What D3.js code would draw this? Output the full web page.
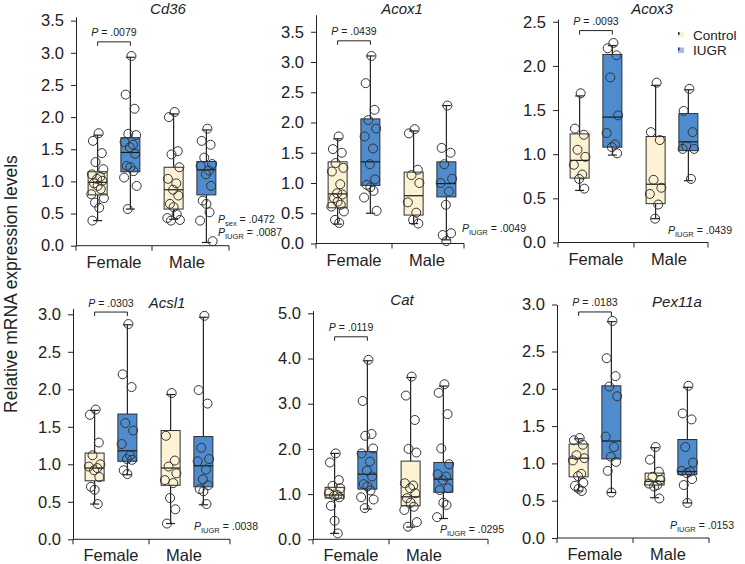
<!DOCTYPE html>
<html>
<head>
<meta charset="utf-8">
<script src="https://cdn.jsdelivr.net/npm/d3@7"></script>
<style>
  body { margin: 0; background: #fff; }
  svg { display: block; font-family: Arial, "Liberation Sans", sans-serif; }
</style>
</head>
<body>
<div id="chart"></div>
<script>
// ---- data ----
const sexes = ["Female", "Male"];
const treatments = ["Control", "IUGR"];
const genes = ["Cd36", "Acox1", "Acox3", "Acsl1", "Cat", "Pex11a"];

// group order in every array: Female-Control, Female-IUGR, Male-Control, Male-IUGR
const cd36Points = [
  [1.75, 1.63, 1.44, 1.30, 1.19, 1.11, 1.07, 1.04, 1.01, 0.97, 0.93, 0.88, 0.80, 0.74, 0.67, 0.59, 0.39],
  [2.95, 2.35, 2.13, 1.74, 1.72, 1.61, 1.57, 1.53, 1.43, 1.24, 1.22, 1.16, 1.06, 0.93, 0.57],
  [2.08, 2.00, 1.47, 1.42, 1.22, 1.04, 0.97, 0.87, 0.78, 0.65, 0.60, 0.49, 0.43, 0.40, 0.39],
  [1.82, 1.63, 1.57, 1.37, 1.27, 1.24, 1.17, 1.11, 0.93, 0.70, 0.65, 0.52, 0.39, 0.07]
];
// [min, q1, median, q3, max]
const cd36Box = [[0.39, 0.79, 0.985, 1.15, 1.72], [0.57, 1.15, 1.45, 1.68, 2.93], [0.41, 0.57, 0.87, 1.22, 2.05], [0.05, 0.79, 1.18, 1.31, 1.80]];

const acox1Points = [
  [1.77, 1.56, 1.50, 1.33, 1.25, 1.19, 0.98, 0.83, 0.81, 0.75, 0.69, 0.64, 0.61, 0.53, 0.39, 0.34],
  [3.10, 2.65, 2.21, 2.04, 1.90, 1.77, 1.57, 1.31, 1.06, 0.97, 0.93, 0.87, 0.76, 0.54],
  [1.89, 1.82, 1.22, 1.13, 1.00, 0.68, 0.51, 0.39, 0.33],
  [2.28, 1.58, 1.50, 1.31, 1.07, 1.00, 0.86, 0.64, 0.17, 0.14, 0.04]
];
const acox1Box = [[0.32, 0.59, 0.82, 1.35, 1.73], [0.50, 0.96, 1.35, 2.06, 3.10], [0.33, 0.47, 0.79, 1.18, 1.86], [0.06, 0.77, 0.99, 1.35, 2.28]];

const acox3Points = [
  [1.69, 1.29, 1.22, 1.05, 0.97, 0.88, 0.77, 0.72, 0.61],
  [2.26, 2.20, 2.12, 1.87, 1.44, 1.24, 1.11, 1.08, 1.01],
  [1.81, 1.25, 1.16, 0.71, 0.62, 0.55, 0.43, 0.27],
  [1.74, 1.49, 1.25, 1.09, 1.06, 1.06, 0.72]
];
const acox3Box = [[0.59, 0.73, 0.93, 1.23, 1.66], [0.99, 1.08, 1.42, 2.13, 2.23], [0.27, 0.44, 0.66, 1.20, 1.78], [0.70, 1.04, 1.14, 1.46, 1.73]];

const acsl1Points = [
  [1.73, 1.66, 1.29, 1.12, 1.00, 0.97, 0.95, 0.92, 0.83, 0.70, 0.66, 0.47],
  [2.87, 2.20, 2.03, 1.55, 1.45, 1.27, 1.12, 1.07, 1.06, 0.92, 0.87],
  [1.95, 1.38, 1.05, 0.97, 0.88, 0.79, 0.75, 0.55, 0.40, 0.21],
  [2.98, 1.99, 1.81, 1.22, 1.07, 1.04, 0.93, 0.80, 0.72, 0.67, 0.64, 0.47]
];
const acsl1Box = [[0.47, 0.78, 0.95, 1.15, 1.72], [0.86, 1.04, 1.18, 1.67, 2.86], [0.21, 0.72, 0.95, 1.45, 1.93], [0.46, 0.70, 0.98, 1.37, 2.96]];

const catPoints = [
  [1.90, 1.70, 1.31, 1.18, 1.13, 1.02, 0.98, 0.96, 0.93, 0.74, 0.41, 0.13],
  [3.97, 3.06, 2.33, 2.29, 2.01, 1.90, 1.72, 1.52, 1.39, 1.22, 1.17, 1.08, 0.93, 0.88, 0.69],
  [3.60, 3.18, 2.64, 2.00, 1.92, 1.24, 1.19, 1.13, 1.02, 0.91, 0.81, 0.72, 0.65, 0.38, 0.28],
  [3.43, 3.24, 2.77, 2.01, 1.66, 1.44, 1.39, 1.31, 1.13, 1.09, 0.81, 0.76, 0.49]
];
const catBox = [[0.13, 0.91, 0.98, 1.15, 1.90], [0.67, 1.11, 1.44, 1.94, 3.95], [0.27, 0.74, 0.94, 1.73, 3.58], [0.46, 1.04, 1.33, 1.70, 3.39]];

const pex11aPoints = [
  [1.34, 1.31, 1.25, 1.11, 1.07, 1.04, 0.86, 0.83, 0.74, 0.70, 0.66, 0.63],
  [2.91, 2.41, 2.17, 2.03, 1.90, 1.36, 1.22, 1.09, 1.02, 0.90, 0.61],
  [1.22, 1.05, 0.89, 0.82, 0.78, 0.73, 0.71, 0.69, 0.53],
  [2.04, 1.67, 1.59, 1.22, 1.01, 0.90, 0.89, 0.87, 0.79, 0.71, 0.47]
];
const pex11aBox = [[0.63, 0.82, 1.07, 1.26, 1.33], [0.61, 1.06, 1.30, 2.04, 2.90], [0.54, 0.71, 0.76, 0.87, 1.21], [0.47, 0.85, 0.89, 1.32, 2.02]];

// female control vs IUGR p-values, and the overall model p-values
const femalePValues = [".0079", ".0439", ".0093", ".0303", ".0119", ".0183"];
const modelPValues = [
  [["sex", ".0472"], ["IUGR", ".0087"]],
  [["IUGR", ".0049"]],
  [["IUGR", ".0439"]],
  [["IUGR", ".0038"]],
  [["IUGR", ".0295"]],
  [["IUGR", ".0153"]]
];
const yTickMax = [3.5, 3.5, 2.5, 3.0, 5.0, 3.0];
const yTickStep = [0.5, 0.5, 0.5, 0.5, 1.0, 0.5];
const bracketLevel = [3.17, 3.35, 2.40, 3.03, 4.48, 3.03];

const allPoints = [cd36Points, acox1Points, acox3Points, acsl1Points, catPoints, pex11aPoints];
const allBoxes = [cd36Box, acox1Box, acox3Box, acsl1Box, catBox, pex11aBox];

// ---- layout ----
const W = 745, H = 564;
const panelLayout = [
  {left: 76,  xEnd: 229, y0: 245.7, ppu: 64.3, yMax: 3.56, titleX: 168, titleY: 14,  statX: 218, statY: 223},
  {left: 316, xEnd: 464, y0: 243.5, ppu: 60.5, yMax: 3.78, titleX: 402, titleY: 14,  statX: 462, statY: 232},
  {left: 558, xEnd: 708, y0: 242.5, ppu: 88.3, yMax: 2.53, titleX: 652, titleY: 14,  statX: 668, statY: 234},
  {left: 73,  xEnd: 230, y0: 539.3, ppu: 75,   yMax: 3.08, titleX: 167, titleY: 308, statX: 194, statY: 530},
  {left: 313, xEnd: 488, y0: 539.3, ppu: 45.2, yMax: 5.06, titleX: 402, titleY: 305, statX: 440, statY: 533},
  // in this panel the top label sits at the end of the axis line
  {left: 557, xEnd: 709, y0: 538,   ppu: 74.6, yMax: 3.13, titleX: 677, titleY: 307, statX: 670, statY: 529, topLabelAtEnd: true}
];
const bandSpan = 152;
const fillColor = {Control: "#fdf2d2", IUGR: "#4f8ccd"};
const strokeColor = "#2a2f36";
const jitter = [0.1, -0.45, 0.4, -0.2, 0.55, -0.55, 0.25, -0.05, 0.45, -0.35, 0.0, 0.3, -0.6, 0.6, -0.25, 0.15, -0.5];

const svg = d3.select("#chart").append("svg")
  .attr("width", W)
  .attr("height", H);

svg.append("text")
  .attr("transform", "translate(17,284) rotate(-90)")
  .attr("text-anchor", "middle")
  .attr("font-size", 17.5)
  .attr("fill", "#222")
  .text("Relative mRNA expression levels");

const fmt = d3.format(".1f");

genes.forEach((gene, gi) => {
  const L = panelLayout[gi];
  const g = svg.append("g").attr("class", "panel");

  const y = d3.scaleLinear().domain([0, L.yMax]).range([L.y0, L.y0 - L.yMax * L.ppu]);
  const xSex = d3.scaleBand().domain(sexes).range([L.left, L.left + bandSpan]);
  const xTrt = d3.scaleBand().domain(treatments).range([0, xSex.bandwidth()])
    .paddingInner(0.42).paddingOuter(0.37);
  const bw = xTrt.bandwidth();

  // y axis
  let ticks = d3.range(0, yTickMax[gi] + 1e-9, yTickStep[gi]);
  let tickFmt = fmt;
  if (L.topLabelAtEnd) {
    ticks = d3.range(0, yTickMax[gi] - 0.4, yTickStep[gi]).concat([L.yMax]);
    tickFmt = d => d === L.yMax ? fmt(yTickMax[gi]) : fmt(d);
  }
  const yAxis = g.append("g")
    .attr("transform", `translate(${L.left},0)`)
    .call(d3.axisLeft(y).tickValues(ticks).tickFormat(tickFmt).tickSize(5).tickSizeOuter(0).tickPadding(7));
  yAxis.selectAll("text").attr("font-size", 16.5).attr("fill", "#222").attr("font-family", "Arial, 'Liberation Sans', sans-serif");
  yAxis.selectAll("line,path").attr("stroke", "#222");

  // x axis
  g.append("line")
    .attr("x1", L.left).attr("x2", L.xEnd)
    .attr("y1", y(0)).attr("y2", y(0))
    .attr("stroke", "#222");
  [L.left, xSex("Male"), L.xEnd].forEach(xv => {
    g.append("line")
      .attr("x1", xv).attr("x2", xv)
      .attr("y1", y(0)).attr("y2", y(0) + 5)
      .attr("stroke", "#222");
  });
  g.selectAll(".sexLabel")
    .data(sexes)
    .join("text")
    .attr("class", "sexLabel")
    .attr("x", d => xSex(d) + xSex.bandwidth() / 2 - (d === "Male" ? 3 : 0))
    .attr("y", y(0) + 22)
    .attr("text-anchor", "middle")
    .attr("font-size", 16.5)
    .attr("fill", "#222")
    .text(d => d);

  // title
  g.append("text")
    .attr("x", L.titleX)
    .attr("y", L.titleY)
    .attr("text-anchor", "middle")
    .attr("font-size", 15)
    .attr("font-style", "italic")
    .attr("fill", "#222")
    .text(gene);

  // boxes
  const groups = [];
  sexes.forEach(s => treatments.forEach(t => groups.push({sex: s, trt: t})));
  groups.forEach((grp, k) => {
    const [mn, q1, md, q3, mx] = allBoxes[gi][k];
    const cx = xSex(grp.sex) + xTrt(grp.trt) + bw / 2;
    const bg = g.append("g").attr("class", "boxG");
    bg.append("line")
      .attr("x1", cx).attr("x2", cx)
      .attr("y1", y(mn)).attr("y2", y(mx))
      .attr("stroke", "#222").attr("stroke-width", 1.2);
    [mn, mx].forEach(v => {
      bg.append("line")
        .attr("x1", cx - 4.5).attr("x2", cx + 4.5)
        .attr("y1", y(v)).attr("y2", y(v))
        .attr("stroke", "#222").attr("stroke-width", 1.2);
    });
    bg.append("rect")
      .attr("x", cx - bw / 2)
      .attr("y", y(q3))
      .attr("width", bw)
      .attr("height", y(q1) - y(q3))
      .attr("fill", fillColor[grp.trt])
      .attr("stroke", strokeColor)
      .attr("stroke-width", 1);
    bg.append("line")
      .attr("x1", cx - bw / 2).attr("x2", cx + bw / 2)
      .attr("y1", y(md)).attr("y2", y(md))
      .attr("stroke", "#1a1a1a").attr("stroke-width", 1.2);

    bg.selectAll("circle")
      .data(allPoints[gi][k])
      .join("circle")
      .attr("cx", (d, i) => cx + jitter[i % jitter.length] * bw * 0.55)
      .attr("cy", d => y(d))
      .attr("r", 4.5)
      .attr("fill", "none")
      .attr("stroke", "#333")
      .attr("stroke-width", 1);
  });

  // female comparison bracket
  const xa = xSex("Female") + xTrt("Control") + bw / 2;
  const xb = xSex("Female") + xTrt("IUGR") + bw / 2;
  const yb = y(bracketLevel[gi]);
  g.append("path")
    .attr("d", `M${xa},${yb + 4}V${yb}H${xb}V${yb + 4}`)
    .attr("fill", "none")
    .attr("stroke", "#222")
    .attr("stroke-width", 1);
  const pt = g.append("text")
    .attr("x", (xa + xb) / 2)
    .attr("y", yb - 5.5)
    .attr("text-anchor", "middle")
    .attr("font-size", 10.5)
    .attr("fill", "#222");
  pt.append("tspan").attr("font-style", "italic").text("P");
  pt.append("tspan").text(" = " + femalePValues[gi]);

  // model p-values
  modelPValues[gi].forEach(([term, val], j) => {
    const t = g.append("text")
      .attr("x", L.statX)
      .attr("y", L.statY + j * 13)
      .attr("font-size", 10.5)
      .attr("fill", "#222");
    t.append("tspan").attr("font-style", "italic").text("P");
    t.append("tspan").attr("font-size", 7.5).attr("dy", 2.5).text(term);
    t.append("tspan").attr("dy", -2.5).text(" = " + val);
  });
});

// legend
const legend = svg.append("g").attr("class", "legend");
treatments.forEach((t, i) => {
  const ly = 32 + i * 15.5;
  legend.append("rect")
    .attr("x", 678).attr("y", ly)
    .attr("width", 6).attr("height", 5.5)
    .attr("fill", t === "Control" ? "#fdefcc" : "#a9b9e2");
  legend.append("rect")
    .attr("x", 678).attr("y", ly)
    .attr("width", 1.5).attr("height", 3)
    .attr("fill", "#1d2a66");
  legend.append("text")
    .attr("x", 693).attr("y", ly + 7.5)
    .attr("font-size", 13.5)
    .attr("fill", "#222")
    .text(t);
});
</script>
</body>
</html>
